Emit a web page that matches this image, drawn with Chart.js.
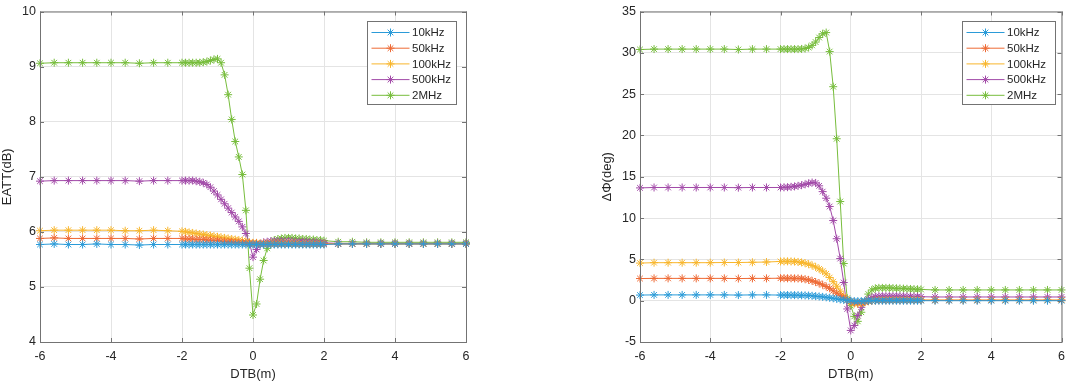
<!DOCTYPE html>
<html>
<head>
<meta charset="utf-8">
<script src="https://cdn.jsdelivr.net/npm/chart.js@4/dist/chart.umd.min.js"></script>
<style>
  html, body { margin: 0; padding: 0; background: #fff; }
  body { width: 1072px; height: 384px; position: relative; overflow: hidden; }
  .panel { position: absolute; top: 0; height: 384px; }
  #leftBox { left: 0; width: 480px; }
  #rightBox { left: 580px; width: 492px; }
</style>
</head>
<body>
<div class="panel" id="leftBox"><canvas id="eattChart"></canvas></div>
<div class="panel" id="rightBox"><canvas id="phaseChart"></canvas></div>
<script>
// distance to bed boundary (m): coarse, dense near the boundary, coarse again
const dtb = [
  -6, -5.6, -5.2, -4.8, -4.4, -4, -3.6, -3.2, -2.8, -2.4,
  -2, -1.9, -1.8, -1.7, -1.6, -1.5, -1.4, -1.3, -1.2, -1.1,
  -1, -0.9, -0.8, -0.7, -0.6, -0.5, -0.4, -0.3, -0.2, -0.1,
  0, 0.1, 0.2, 0.3, 0.4, 0.5, 0.6, 0.7, 0.8, 0.9,
  1, 1.1, 1.2, 1.3, 1.4, 1.5, 1.6, 1.7, 1.8, 1.9, 2,
  2.4, 2.8, 3.2, 3.6, 4, 4.4, 4.8, 5.2, 5.6, 6
];

const freqLabels = ['10kHz', '50kHz', '100kHz', '500kHz', '2MHz'];

// EATT (dB)
const eatt10k = [
  5.77, 5.78, 5.77, 5.77, 5.78, 5.77, 5.77, 5.76, 5.77, 5.77,
  5.77, 5.77, 5.77, 5.77, 5.77, 5.77, 5.77, 5.77, 5.77, 5.77,
  5.77, 5.77, 5.77, 5.77, 5.77, 5.77, 5.77, 5.77, 5.77, 5.77,
  5.77, 5.77, 5.77, 5.77, 5.77, 5.77, 5.77, 5.77, 5.77, 5.77,
  5.77, 5.77, 5.77, 5.77, 5.77, 5.77, 5.77, 5.77, 5.77, 5.77, 5.77,
  5.78, 5.78, 5.78, 5.78, 5.78, 5.78, 5.78, 5.78, 5.78, 5.78
];
const eatt50k = [
  5.88, 5.89, 5.88, 5.88, 5.88, 5.88, 5.88, 5.87, 5.88, 5.88,
  5.88, 5.87, 5.87, 5.87, 5.86, 5.86, 5.86, 5.85, 5.85, 5.84,
  5.84, 5.83, 5.83, 5.82, 5.82, 5.81, 5.81, 5.80, 5.80, 5.79,
  5.79, 5.79, 5.78, 5.78, 5.78, 5.78, 5.78, 5.78, 5.78, 5.78,
  5.78, 5.78, 5.78, 5.78, 5.78, 5.78, 5.78, 5.78, 5.78, 5.78, 5.78,
  5.78, 5.78, 5.78, 5.78, 5.78, 5.78, 5.78, 5.78, 5.78, 5.78
];
const eatt100k = [
  6.02, 6.03, 6.03, 6.03, 6.03, 6.03, 6.02, 6.02, 6.03, 6.02,
  6.01, 6.00, 5.99, 5.98, 5.97, 5.96, 5.95, 5.94, 5.93, 5.92,
  5.91, 5.90, 5.89, 5.88, 5.87, 5.86, 5.85, 5.84, 5.82, 5.81,
  5.80, 5.80, 5.79, 5.79, 5.79, 5.79, 5.79, 5.79, 5.79, 5.79,
  5.79, 5.79, 5.79, 5.78, 5.78, 5.78, 5.78, 5.78, 5.78, 5.78, 5.78,
  5.78, 5.78, 5.78, 5.78, 5.78, 5.78, 5.78, 5.78, 5.78, 5.78
];
const eatt500k = [
  6.92, 6.93, 6.93, 6.93, 6.93, 6.93, 6.93, 6.92, 6.93, 6.93,
  6.93, 6.93, 6.93, 6.93, 6.92, 6.91, 6.89, 6.86, 6.81, 6.74,
  6.67, 6.59, 6.51, 6.43, 6.35, 6.27, 6.19, 6.09, 5.97, 5.80,
  5.54, 5.68, 5.77, 5.81, 5.82, 5.83, 5.83, 5.83, 5.83, 5.83,
  5.83, 5.83, 5.82, 5.82, 5.82, 5.82, 5.81, 5.81, 5.81, 5.80, 5.80,
  5.79, 5.79, 5.79, 5.79, 5.79, 5.79, 5.79, 5.79, 5.79, 5.79
];
const eatt2M = [
  9.06, 9.07, 9.07, 9.07, 9.07, 9.07, 9.07, 9.06, 9.07, 9.07,
  9.07, 9.07, 9.07, 9.07, 9.07, 9.07, 9.08, 9.09, 9.11, 9.13,
  9.14, 9.07, 8.85, 8.49, 8.04, 7.64, 7.36, 7.04, 6.39, 5.34,
  4.49, 4.69, 5.14, 5.48, 5.70, 5.80, 5.85, 5.87, 5.88, 5.89,
  5.89, 5.89, 5.88, 5.88, 5.87, 5.87, 5.86, 5.86, 5.85, 5.85, 5.84,
  5.82, 5.82, 5.81, 5.81, 5.81, 5.81, 5.81, 5.81, 5.81, 5.81
];

// phase difference (deg)
const phase10k = [
  0.68, 0.70, 0.70, 0.70, 0.70, 0.70, 0.70, 0.68, 0.70, 0.70,
  0.68, 0.68, 0.68, 0.67, 0.67, 0.66, 0.65, 0.64, 0.62, 0.59,
  0.55, 0.51, 0.46, 0.41, 0.35, 0.29, 0.22, 0.15, 0.09, 0.04,
  0.00, -0.05, -0.06, -0.05, -0.03, -0.02, -0.01, 0, 0, 0,
  0, 0, 0, 0, 0, 0, 0, 0, 0, 0, 0,
  0, 0, 0, 0, 0, 0, 0, 0, 0, 0
];
const phase50k = [
  2.68, 2.70, 2.70, 2.70, 2.70, 2.70, 2.70, 2.68, 2.70, 2.70,
  2.72, 2.72, 2.71, 2.71, 2.70, 2.69, 2.66, 2.60, 2.52, 2.40,
  2.26, 2.10, 1.92, 1.72, 1.50, 1.20, 0.90, 0.60, 0.33, 0.10,
  -0.08, -0.22, -0.25, -0.20, -0.12, -0.05, 0, 0.03, 0.05, 0.05,
  0.05, 0.05, 0.05, 0.05, 0.05, 0.05, 0.05, 0.05, 0.05, 0.05, 0.05,
  0.05, 0.05, 0.05, 0.05, 0.05, 0.05, 0.05, 0.05, 0.05, 0.05
];
const phase100k = [
  4.55, 4.60, 4.60, 4.60, 4.60, 4.60, 4.62, 4.62, 4.65, 4.68,
  4.75, 4.76, 4.76, 4.75, 4.73, 4.69, 4.63, 4.54, 4.42, 4.27,
  4.08, 3.85, 3.58, 3.25, 2.80, 2.30, 1.75, 1.15, 0.55, 0.10,
  -0.15, -0.35, -0.38, -0.30, -0.18, -0.08, 0, 0.05, 0.07, 0.08,
  0.08, 0.08, 0.08, 0.08, 0.08, 0.08, 0.08, 0.08, 0.08, 0.08, 0.08,
  0.08, 0.08, 0.08, 0.08, 0.08, 0.08, 0.08, 0.08, 0.08, 0.08
];
const phase500k = [
  13.65, 13.70, 13.70, 13.70, 13.70, 13.70, 13.70, 13.68, 13.70, 13.70,
  13.70, 13.72, 13.74, 13.78, 13.83, 13.90, 13.98, 14.08, 14.20, 14.30,
  14.25, 13.90, 13.20, 12.40, 11.40, 9.70, 7.50, 5.10, 2.20, -1.00,
  -3.60, -3.00, -1.80, -0.80, -0.15, 0.20, 0.40, 0.50, 0.55, 0.55,
  0.55, 0.55, 0.55, 0.55, 0.54, 0.53, 0.52, 0.51, 0.50, 0.49, 0.48,
  0.45, 0.45, 0.45, 0.45, 0.45, 0.45, 0.45, 0.45, 0.45, 0.45
];
const phase2M = [
  30.40, 30.45, 30.45, 30.45, 30.45, 30.45, 30.45, 30.40, 30.45, 30.45,
  30.45, 30.45, 30.45, 30.45, 30.45, 30.45, 30.47, 30.52, 30.65, 30.90,
  31.30, 31.85, 32.30, 32.45, 30.15, 25.90, 19.60, 12.00, 4.50, 0.30,
  -0.60, -1.90, -2.50, -1.40, -0.10, 0.80, 1.30, 1.50, 1.55, 1.55,
  1.55, 1.55, 1.52, 1.50, 1.48, 1.46, 1.44, 1.42, 1.40, 1.38, 1.36,
  1.30, 1.30, 1.30, 1.30, 1.30, 1.30, 1.30, 1.30, 1.30, 1.30
];

const xTicks = [-6, -4, -2, 0, 2, 4, 6];
const eattTicks = [4, 5, 6, 7, 8, 9, 10];
const phaseTicks = [-5, 0, 5, 10, 15, 20, 25, 30, 35];

const colors = ['#2b9bd8', '#ee6a35', '#f8b62c', '#a24aa8', '#77bd3c'];
const axisColor = '#737373';
const textColor = '#262626';
const fontFamily = '"Liberation Sans", Arial, Helvetica, sans-serif';

// MATLAB-like box, inner tick marks and a legend inside the top-right corner
const framePlugin = {
    id: 'frame',
    afterDraw(chart, args, opts) {
        const ctx = chart.ctx;
        const a = chart.chartArea;
        const sx = chart.scales.x, sy = chart.scales.y;
        ctx.save();
        ctx.strokeStyle = axisColor;
        ctx.lineWidth = 1;
        ctx.strokeRect(a.left + 0.5, a.top + 0.5, a.right - a.left, a.bottom - a.top);
        ctx.beginPath();
        sx.ticks.forEach(t => {
            const px = Math.round(sx.getPixelForValue(t.value)) + 0.5;
            ctx.moveTo(px, a.bottom); ctx.lineTo(px, a.bottom - 4);
            ctx.moveTo(px, a.top); ctx.lineTo(px, a.top + 4);
        });
        sy.ticks.forEach(t => {
            const py = Math.round(sy.getPixelForValue(t.value)) + 0.5;
            ctx.moveTo(a.left, py); ctx.lineTo(a.left + 4, py);
            ctx.moveTo(a.right, py); ctx.lineTo(a.right - 4, py);
        });
        ctx.stroke();

        // legend
        const bw = opts.width, bh = 83;
        const bx = Math.round(a.right - opts.right - bw) + 0.5;
        const by = Math.round(a.top + 9) + 0.5;
        ctx.fillStyle = '#fff';
        ctx.fillRect(bx, by, bw, bh);
        ctx.strokeRect(bx, by, bw, bh);
        ctx.font = '11.5px ' + fontFamily;
        ctx.textBaseline = 'middle';
        chart.data.datasets.forEach((ds, i) => {
            const cy = by + 11 + i * 15.7;
            ctx.strokeStyle = ds.borderColor;
            ctx.fillStyle = ds.borderColor;
            ctx.beginPath();
            ctx.moveTo(bx + 4, cy); ctx.lineTo(bx + 42, cy);
            ctx.stroke();
            Chart.helpers.drawPoint(ctx, {pointStyle: 'star', radius: 4, borderWidth: 1, rotation: 0}, bx + 23, cy);
            ctx.fillStyle = textColor;
            ctx.fillText(ds.label, bx + 44.5, cy + 0.5);
        });
        ctx.restore();
    }
};

function buildDatasets(seriesList) {
    return seriesList.map((vals, i) => ({
        label: freqLabels[i],
        data: dtb.map((x, j) => ({x: x, y: vals[j]})),
        borderColor: colors[i],
        backgroundColor: colors[i],
        borderWidth: 1,
        pointStyle: 'star',
        pointRadius: 4,
        pointBorderWidth: 1,
        pointHoverRadius: 4,
        tension: 0,
        clip: false
    }));
}

function makeChart(id, seriesList, yTicks, yTitle, yWidth, yTitlePad, rightPad, legendRight, legendWidth) {
    const ctx = document.getElementById(id).getContext('2d');
    return new Chart(ctx, {
        type: 'line',
        data: { datasets: buildDatasets(seriesList) },
        options: {
            responsive: true,
            maintainAspectRatio: false,
            animation: false,
            events: [],
            layout: { padding: { top: 6, right: rightPad, left: 0, bottom: 0 } },
            scales: {
                x: {
                    type: 'linear',
                    min: xTicks[0],
                    max: xTicks[xTicks.length - 1],
                    afterBuildTicks: s => { s.ticks = xTicks.map(v => ({value: v})); },
                    afterFit: s => { s.height = 42; },
                    grid: { color: '#e4e4e4', drawTicks: false },
                    border: { display: false },
                    ticks: { color: textColor, padding: 7, maxRotation: 0, font: { family: fontFamily, size: 12.5 } },
                    title: { display: true, text: 'DTB(m)', color: textColor, padding: { top: 0, bottom: 2 }, font: { family: fontFamily, size: 13 } }
                },
                y: {
                    min: yTicks[0],
                    max: yTicks[yTicks.length - 1],
                    afterBuildTicks: s => { s.ticks = yTicks.map(v => ({value: v})); },
                    afterFit: s => { s.width = yWidth; },
                    grid: { color: '#e4e4e4', drawTicks: false },
                    border: { display: false },
                    ticks: { color: textColor, padding: 4, font: { family: fontFamily, size: 12.5 } },
                    title: { display: true, text: yTitle, color: textColor, padding: { top: yTitlePad, bottom: 0 }, font: { family: fontFamily, size: 13 } }
                }
            },
            plugins: {
                legend: { display: false },
                tooltip: { enabled: false },
                frame: { right: legendRight, width: legendWidth }
            }
        },
        plugins: [framePlugin]
    });
}

makeChart('eattChart', [eatt10k, eatt50k, eatt100k, eatt500k, eatt2M],
    eattTicks, 'EATT(dB)', 40, 0, 14, 10, 89);
makeChart('phaseChart', [phase10k, phase50k, phase100k, phase500k, phase2M],
    phaseTicks, 'ΔΦ(deg)', 60, 20, 6, 7, 93);
</script>
</body>
</html>
